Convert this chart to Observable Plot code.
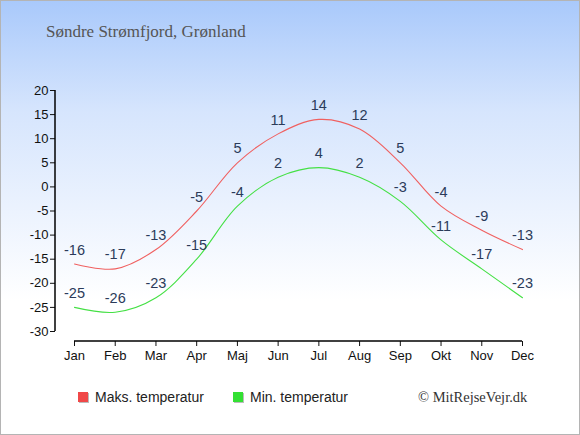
<!DOCTYPE html>
<html><head><meta charset="utf-8">
<script src="https://cdn.jsdelivr.net/npm/d3@7"></script>
<script src="https://cdn.jsdelivr.net/npm/@observablehq/plot@0.6"></script>
<style>
html,body{margin:0;padding:0;}
#wrap{position:relative;width:578px;height:433px;border:1px solid #b4b4b4;
 background:linear-gradient(to bottom,#a9c9fb 0px,#d6e5fd 110px,#ffffff 300px,#ffffff 433px);overflow:hidden;}
#title{position:absolute;left:45px;top:21px;font-family:"Liberation Serif","DejaVu Serif",serif;font-size:17px;color:#555;}
#plot{position:absolute;left:-1px;top:-1px;width:580px;}
#legend{position:absolute;top:388px;left:0;width:578px;font-family:"Liberation Sans",Arial,sans-serif;font-size:14px;color:#222;}
.li{position:absolute;display:flex;align-items:center;}
.sq{width:10px;height:10px;margin-right:7px;box-shadow:1px 1px 0 #bbb;}
#copy{position:absolute;left:417px;top:0;font-family:"Liberation Serif","DejaVu Serif",serif;font-size:14.5px;color:#333;}
</style></head>
<body>
<div id="wrap">
<div id="title">Søndre Strømfjord, Grønland</div>
<div id="plot"></div>
<div id="legend">
 <div class="li" style="left:77px"><div class="sq" style="background:#f04848"></div>Maks. temperatur</div>
 <div class="li" style="left:232px"><div class="sq" style="background:#33e033"></div>Min. temperatur</div>
 <div id="copy">© MitRejseVejr.dk</div>
</div>
</div>
<script>
const months = ["Jan","Feb","Mar","Apr","Maj","Jun","Jul","Aug","Sep","Okt","Nov","Dec"];
const maxTemp = [-16,-17,-13,-5,5,11,14,12,5,-4,-9,-13];
const minTemp = [-25,-26,-23,-15,-4,2,4,2,-3,-11,-17,-23];
const yTicks = [-30,-25,-20,-15,-10,-5,0,5,10,15,20];

const maxData = months.map((m,i)=>({month:m,t:maxTemp[i]}));
const minData = months.map((m,i)=>({month:m,t:minTemp[i]}));

const labelColor = "#2b3b5a";
const chart = Plot.plot({
  width: 580, height: 380,
  marginTop: 90, marginBottom: 39, marginLeft: 55, marginRight: 58,
  style: {background: "transparent", fontFamily: "'Liberation Sans', Arial, sans-serif", fontSize: "13px", color: "#111"},
  x: {type: "point", domain: months, padding: 0, insetLeft: 19, round: false},
  y: {domain: [-30, 20], insetBottom: 10},
  marks: [
    Plot.axisX({ticks: months, tickSize: 5, tickPadding: 4, label: null, fontSize: 13}),
    Plot.axisY({ticks: yTicks, tickSize: 5, tickPadding: 2, label: null, fontSize: 13, tickFormat: d => String(d)}),
    Plot.line(maxData, {x: "month", y: "t", stroke: "#f06060", strokeWidth: 1.1, curve: "catmull-rom"}),
    Plot.line(minData, {x: "month", y: "t", stroke: "#44e044", strokeWidth: 1.1, curve: "catmull-rom"}),
    Plot.text(maxData, {x: "month", y: "t", text: d => String(d.t), dy: -14, fill: labelColor, fontSize: 14.5}),
    Plot.text(minData, {x: "month", y: "t", text: d => String(d.t), dy: -14, fill: labelColor, fontSize: 14.5})
  ]
});
document.getElementById("plot").appendChild(chart);

// axis lines using the plot's own scales
const xs = chart.scale("x"), ys = chart.scale("y");
const svg = d3.select(chart.tagName === "svg" ? chart : chart.querySelector("svg"));
const x0 = 55, yb = ys.apply(-30) + 10;
svg.append("line").attr("x1", x0).attr("x2", x0).attr("y1", ys.apply(20)).attr("y2", ys.apply(-30))
  .attr("stroke", "#000").attr("stroke-width", 1.5);
svg.append("line").attr("x1", xs.apply("Jan")).attr("x2", xs.apply("Dec")).attr("y1", yb).attr("y2", yb)
  .attr("stroke", "#000").attr("stroke-width", 1.5);
</script>
</body></html>
